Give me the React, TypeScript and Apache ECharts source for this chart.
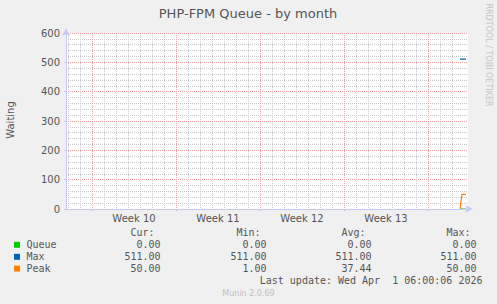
import React, { useEffect, useRef } from "react";
import * as echarts from "echarts";

// hours since Monday 2 March 2026 00:00 (start of week 10)
const axisStartHour = -52;
const axisEndHour = 752;
const weekStartHours = [0, 168, 336, 504, 672];
const weekLabelHours = [84, 252, 420, 588];
const weekLabels = ["Week 10", "Week 11", "Week 12", "Week 13"];
const dayTickHours = Array.from({ length: 33 }, (_, i) => -48 + i * 24);

const queueHours = [736, 748];
const queueValues = [0, 0];
const maxHours = [736, 748];
const maxValues = [511, 511];
const peakHours = [736, 740, 748];
const peakValues = [1, 50, 50];

const legendNames = ["Queue", "Max", "Peak"];
const legendColors = ["#00cc00", "#0066b3", "#ff8000"];
const legendCur = ["0.00", "511.00", "50.00"];
const legendMin = ["0.00", "511.00", "1.00"];
const legendAvg = ["0.00", "511.00", "37.44"];
const legendMax = ["0.00", "511.00", "50.00"];

const MONO = "'DejaVu Sans Mono', monospace";
const SANS = "'DejaVu Sans', sans-serif";
const TXT = "#555555";

export default function App() {
  const ref = useRef<HTMLDivElement>(null);
  useEffect(() => {
    if (!ref.current) return;
    const chart = echarts.init(ref.current, undefined, { renderer: "svg" });
    const common = { type: "value", min: axisStartHour, max: axisEndHour, gridIndex: 0, position: "bottom", offset: 0 };
    const commonY = { type: "value", min: 0, max: 600, gridIndex: 0, position: "left", offset: 0 };
    const hidden = { show: false };
    const dot = (color: string) => ({ show: true, lineStyle: { color, width: 1, type: [1, 1] } });

    const graphics: any[] = [
      { type: "text", x: 248, y: 13.5, style: { text: "PHP-FPM Queue - by month", font: `13px ${SANS}`, fill: TXT, align: "center", verticalAlign: "middle" } },
      { type: "text", x: 10.5, y: 120, rotation: Math.PI / 2, style: { text: "Waiting", font: `10px ${SANS}`, fill: TXT, align: "center", verticalAlign: "middle" } },
      { type: "text", x: 488, y: 55, rotation: -Math.PI / 2, style: { text: "RRDTOOL / TOBI OETIKER", font: `8px ${SANS}`, fill: "#c4c4c4", align: "center", verticalAlign: "middle" } },
      { type: "text", x: 248.5, y: 293, style: { text: "Munin 2.0.69", font: `8px ${SANS}`, fill: "#c0c0c0", align: "center", verticalAlign: "middle" } },
      { type: "text", x: 482.5, y: 280.5, style: { text: "Last update: Wed Apr  1 06:00:06 2026", font: `10px ${MONO}`, fill: TXT, align: "right", verticalAlign: "middle" } },
    ];
    const headers = ["Cur:", "Min:", "Avg:", "Max:"];
    const headerX = [154.5, 260.5, 365.5, 470.5];
    headers.forEach((h, i) => {
      graphics.push({ type: "text", x: headerX[i], y: 232.5, style: { text: h, font: `10px ${MONO}`, fill: TXT, align: "right", verticalAlign: "middle" } });
    });
    const valueX = [160.5, 266.5, 371.5, 476.5];
    const rowY = [244.8, 256.8, 268.6];
    legendNames.forEach((n, r) => {
      graphics.push({ type: "rect", shape: { x: 14, y: rowY[r] - 3, width: 6, height: 6 }, style: { fill: legendColors[r] } });
      graphics.push({ type: "text", x: 26.5, y: rowY[r], style: { text: n, font: `10px ${MONO}`, fill: TXT, align: "left", verticalAlign: "middle" } });
      [legendCur, legendMin, legendAvg, legendMax].forEach((col, c) => {
        graphics.push({ type: "text", x: valueX[c], y: rowY[r], style: { text: col[r], font: `10px ${MONO}`, fill: TXT, align: "right", verticalAlign: "middle" } });
      });
    });

    chart.setOption({
      animation: false,
      backgroundColor: "#f0f0f0",
      grid: { left: 66, top: 33, width: 402, height: 176, show: true, backgroundColor: "#ffffff", borderWidth: 0 },
      xAxis: [
        {
          ...common, z: 4,
          axisLine: { show: true, onZero: false, lineStyle: { color: "#c8c8f8", width: 1 }, symbol: ["none", "arrow"], symbolSize: [6, 8], symbolOffset: [0, 5] },
          axisTick: hidden, axisLabel: hidden, splitLine: hidden,
        },
        {
          ...common, z: 0, axisLine: { show: false, onZero: false }, axisLabel: hidden,
          axisTick: { show: false, customValues: dayTickHours },
          splitLine: dot("#c8c8c8"),
        },
        {
          ...common, z: 1, axisLine: { show: false, onZero: false }, axisLabel: hidden,
          axisTick: { show: true, customValues: weekStartHours, length: 2, lineStyle: { color: "#e8a0a0" } },
          splitLine: dot("#e6a0a0"),
        },
        {
          ...common, z: 1, axisLine: { show: false, onZero: false }, splitLine: hidden,
          axisTick: { show: false, customValues: weekLabelHours },
          axisLabel: {
            show: true, customValues: weekLabelHours, margin: 4, color: TXT, fontSize: 10, fontFamily: SANS,
            formatter: (v: number) => weekLabels[weekLabelHours.indexOf(v)] ?? "",
          },
        },
      ],
      yAxis: [
        {
          ...commonY, interval: 100, z: 4,
          axisLine: { show: true, onZero: false, lineStyle: { color: "#c8c8f8", width: 1 }, symbol: ["none", "arrow"], symbolSize: [6, 8], symbolOffset: [0, 5] },
          axisTick: { show: true, length: 2, lineStyle: { color: "#c8c8f8" } },
          axisLabel: { show: true, margin: 6, color: TXT, fontSize: 10, fontFamily: SANS },
          splitLine: hidden,
        },
        { ...commonY, interval: 20, z: 0, axisLine: { show: false, onZero: false }, axisTick: hidden, axisLabel: hidden, splitLine: dot("#c8c8c8") },
        { ...commonY, interval: 100, z: 1, axisLine: { show: false, onZero: false }, axisTick: hidden, axisLabel: hidden, splitLine: dot("#e6a0a0") },
      ],
      graphic: graphics,
      series: [
        { name: "Queue", type: "line", z: 2, showSymbol: false, lineStyle: { color: legendColors[0], width: 1 }, data: queueHours.map((h, i) => [h, queueValues[i]]) },
        { name: "Max", type: "line", z: 2, showSymbol: false, lineStyle: { color: legendColors[1], width: 1.3 }, data: maxHours.map((h, i) => [h, maxValues[i]]) },
        { name: "Peak", type: "line", z: 2, showSymbol: false, lineStyle: { color: legendColors[2], width: 1.2 }, data: peakHours.map((h, i) => [h, peakValues[i]]) },
      ],
    });
    return () => chart.dispose();
  }, []);
  return <div ref={ref} style={{ position: "fixed", left: 0, top: 0, width: 497, height: 304 }} />;
}
